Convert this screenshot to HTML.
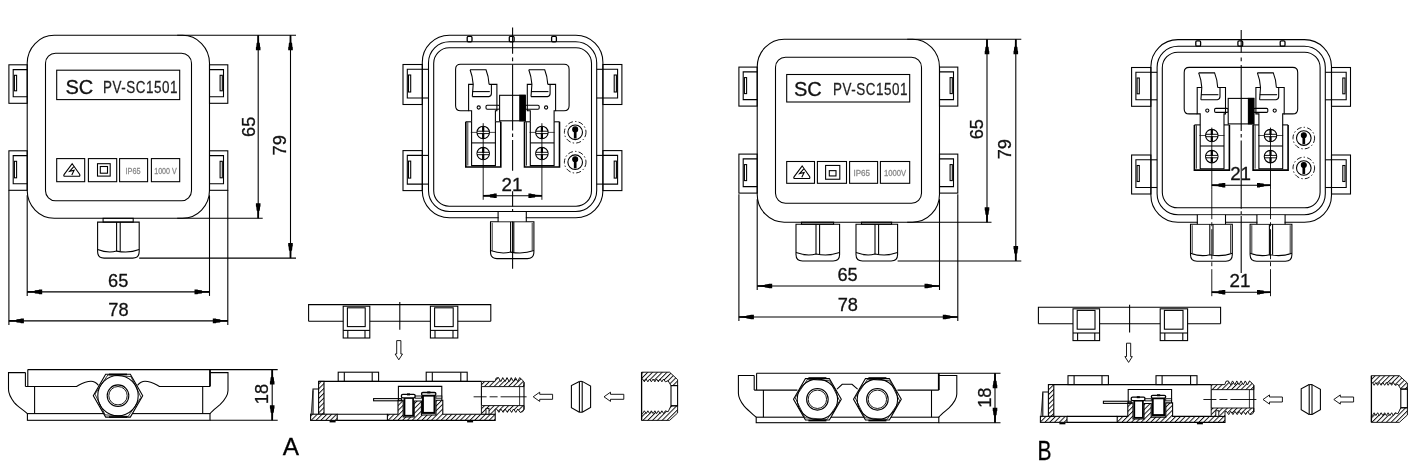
<!DOCTYPE html>
<html lang="en">
<head>
<meta charset="utf-8">
<title>PV-SC1501 junction box drawing</title>
<style>
html,body{margin:0;padding:0;background:#fff;}
body{width:1424px;height:472px;overflow:hidden;font-family:"Liberation Sans",sans-serif;}
svg{display:block;font-family:"Liberation Sans",sans-serif;}
svg{will-change:transform;}
</style>
</head>
<body>
<svg width="1424" height="472" viewBox="0 0 1424 472" fill="none" stroke="#000" stroke-width="1.08" stroke-linecap="butt" stroke-linejoin="miter">
<defs>
<pattern id="h" width="3.4" height="3.4" patternUnits="userSpaceOnUse" patternTransform="rotate(45)">
<rect width="3.4" height="3.4" fill="#fff" stroke="none"/>
<line x1="0.5" y1="0" x2="0.5" y2="3.4" stroke="#000" stroke-width="0.9"/>
</pattern>
</defs>
<rect x="0" y="0" width="1424" height="472" fill="#fff" stroke="none"/>
<path d="M54.2,35.3 H182.5 A27,28 0 0 1 209.5,63.3 V190.3 A27,28 0 0 1 182.5,218.3 H54.2 A27,28 0 0 1 27.2,190.3 V63.3 A27,28 0 0 1 54.2,35.3 Z"/>
<path d="M55.5,53.3 H181.5 A10,10 0 0 1 191.5,63.3 V190.7 A10,10 0 0 1 181.5,200.7 H55.5 A10,10 0 0 1 45.5,190.7 V63.3 A10,10 0 0 1 55.5,53.3 Z"/>
<rect x="56.7" y="70.2" width="123" height="29.4"/>
<text x="65.5" y="93.8" font-size="19.4" textLength="27.8" lengthAdjust="spacingAndGlyphs" fill="#111" stroke="#111" stroke-width="0.3">SC</text>
<text transform="translate(103 92.9) scale(0.84 1)" x="0" y="0" font-size="16" textLength="88.81" lengthAdjust="spacing" fill="#222" stroke="#222" stroke-width="0.25">PV-SC1501</text>
<rect x="56.7" y="158.6" width="28" height="23.1"/>
<rect x="88.4" y="158.6" width="28.3" height="23.1"/>
<rect x="119.6" y="158.6" width="28" height="23.1"/>
<rect x="151.4" y="158.6" width="28.3" height="23.1"/>
<path d="M72.2,163.7 L79.6,174.3 Q80.5,176.3 78.8,176.3 L65,176.3 Q63,176.3 64.2,174.3 Z"/>
<path d="M73.8,166.7 L69.6,171.3 L74.1,170.3 L71.8,174.9"/>
<rect x="97.5" y="163.7" width="12.7" height="12.4"/>
<rect x="100.3" y="166.5" width="7.2" height="6.7"/>
<text x="133.1" y="173.9" font-size="8.9" text-anchor="middle" textLength="15" lengthAdjust="spacingAndGlyphs" fill="#8a8a8a" stroke="#8a8a8a" stroke-width="0.3">IP65</text>
<text x="165.5" y="173.9" font-size="8.9" text-anchor="middle" textLength="22.6" lengthAdjust="spacingAndGlyphs" fill="#8a8a8a" stroke="#8a8a8a" stroke-width="0.3">1000 V</text>
<rect x="8.9" y="64.8" width="18.3" height="38.5"/>
<path d="M27.2,69.6 H13.2 V96.8 H27.2"/>
<rect x="14.4" y="75.3" width="2.2" height="15.5"/>
<rect x="209.5" y="64.8" width="18.3" height="38.5"/>
<path d="M209.5,69.6 H223.5 V96.8 H209.5"/>
<rect x="220.1" y="75.3" width="2.2" height="15.5"/>
<rect x="8.9" y="150.8" width="18.3" height="39.5"/>
<path d="M27.2,155.6 H13.2 V183.8 H27.2"/>
<rect x="14.4" y="161.3" width="2.2" height="16.5"/>
<rect x="209.5" y="150.8" width="18.3" height="39.5"/>
<path d="M209.5,155.6 H223.5 V183.8 H209.5"/>
<rect x="220.1" y="161.3" width="2.2" height="16.5"/>
<line x1="27.2" y1="195.3" x2="27.2" y2="295.9"/>
<line x1="209.5" y1="195.3" x2="209.5" y2="295.9"/>
<line x1="8.9" y1="190.3" x2="8.9" y2="324.9"/>
<line x1="227.8" y1="190.3" x2="227.8" y2="324.9"/>
<line x1="177.2" y1="35.3" x2="296" y2="35.3"/>
<line x1="177.2" y1="218.3" x2="262.7" y2="218.3"/>
<line x1="139.2" y1="258.1" x2="296" y2="258.1"/>
<rect x="103.1" y="218.3" width="30.1" height="3.8"/>
<path d="M97.6,222.1 V251.6 Q97.6,258.1 104.1,258.1 H132.7 Q139.2,258.1 139.2,251.6 V222.1 Z"/>
<line x1="116.6" y1="222.1" x2="116.6" y2="251.1"/>
<line x1="120.2" y1="222.1" x2="120.2" y2="251.1"/>
<path d="M97.6,249.6 Q108,253.6 116.6,251.1 Q128.8,253.6 139.2,249.6"/>
<line x1="258.2" y1="35.3" x2="258.2" y2="218.3"/>
<path d="M259.05,35.3 L259.15,42.5 L259.8,43.1 L260.1,46.7 L260.5,47.3 L260.5,50.3 L255.9,50.3 L255.9,47.3 L256.3,46.7 L256.6,43.1 L257.25,42.5 L257.35,35.3 Z" fill="#000" stroke="none"/>
<path d="M257.35,218.3 L257.25,211.1 L256.6,210.5 L256.3,206.9 L255.9,206.3 L255.9,203.3 L260.5,203.3 L260.5,206.3 L260.1,206.9 L259.8,210.5 L259.15,211.1 L259.05,218.3 Z" fill="#000" stroke="none"/>
<line x1="290.5" y1="35.3" x2="290.5" y2="258.1"/>
<path d="M291.35,35.3 L291.45,42.5 L292.1,43.1 L292.4,46.7 L292.8,47.3 L292.8,50.3 L288.2,50.3 L288.2,47.3 L288.6,46.7 L288.9,43.1 L289.55,42.5 L289.65,35.3 Z" fill="#000" stroke="none"/>
<path d="M289.65,258.1 L289.55,250.9 L288.9,250.3 L288.6,246.7 L288.2,246.1 L288.2,243.1 L292.8,243.1 L292.8,246.1 L292.4,246.7 L292.1,250.3 L291.45,250.9 L291.35,258.1 Z" fill="#000" stroke="none"/>
<line x1="27.2" y1="291.9" x2="209.5" y2="291.9"/>
<path d="M27.2,291.05 L34.4,290.95 L35,290.3 L38.6,290 L39.2,289.6 L42.2,289.6 L42.2,294.2 L39.2,294.2 L38.6,293.8 L35,293.5 L34.4,292.85 L27.2,292.75 Z" fill="#000" stroke="none"/>
<path d="M209.5,292.75 L202.3,292.85 L201.7,293.5 L198.1,293.8 L197.5,294.2 L194.5,294.2 L194.5,289.6 L197.5,289.6 L198.1,290 L201.7,290.3 L202.3,290.95 L209.5,291.05 Z" fill="#000" stroke="none"/>
<line x1="8.9" y1="320.9" x2="227.8" y2="320.9"/>
<path d="M8.9,320.05 L16.1,319.95 L16.7,319.3 L20.3,319 L20.9,318.6 L23.9,318.6 L23.9,323.2 L20.9,323.2 L20.3,322.8 L16.7,322.5 L16.1,321.85 L8.9,321.75 Z" fill="#000" stroke="none"/>
<path d="M227.8,321.75 L220.6,321.85 L220,322.5 L216.4,322.8 L215.8,323.2 L212.8,323.2 L212.8,318.6 L215.8,318.6 L216.4,319 L220,319.3 L220.6,319.95 L227.8,320.05 Z" fill="#000" stroke="none"/>
<text x="254.8" y="126.8" font-size="18.2" text-anchor="middle" transform="rotate(-90 254.8 126.8)" fill="#111" stroke="#111" stroke-width="0.3">65</text>
<text x="285.8" y="145.3" font-size="18.2" text-anchor="middle" transform="rotate(-90 285.8 145.3)" fill="#111" stroke="#111" stroke-width="0.3">79</text>
<text x="118.2" y="287.3" font-size="18.2" text-anchor="middle" fill="#111" stroke="#111" stroke-width="0.3">65</text>
<text x="118.4" y="315.9" font-size="18.2" text-anchor="middle" fill="#111" stroke="#111" stroke-width="0.3">78</text>
<line x1="27.8" y1="369.6" x2="277.7" y2="369.6"/>
<line x1="210" y1="420.3" x2="277.7" y2="420.3"/>
<line x1="27.8" y1="369.6" x2="27.8" y2="386.5"/>
<line x1="25.4" y1="372.6" x2="25.4" y2="386.5"/>
<line x1="210" y1="369.6" x2="210" y2="386.5" stroke-width="1.8"/>
<path d="M25.4,386.5 H76.5 C82,383.5 85,381.3 91,381.3 C94,381.3 96.5,383 98.5,385.3"/>
<path d="M137.5,385.3 C139.5,383 142,381.3 145,381.3 C151,381.3 154,383.5 159.5,386.5 H210"/>
<line x1="34.6" y1="386.5" x2="34.6" y2="413.6"/>
<line x1="202.7" y1="386.5" x2="202.7" y2="413.6"/>
<rect x="27.4" y="413.6" width="182.6" height="6.7"/>
<path d="M25.4,372.6 H8.5 V389.6 C8.5,393.6 10.8,398.1 14.3,402.6 C17.8,406.6 22.8,409.6 27.4,413.6"/>
<path d="M210,372.6 H228 V390.4 C228,394.6 225,399.6 220,404.6 C216,408.1 212.5,410.6 210,413.6"/>
<path d="M142.7,395.7 L130.35,417.09 L105.65,417.09 L93.3,395.7 L105.65,374.31 L130.35,374.31 Z" fill="#fff"/>
<path d="M141.04,397.31 L128.13,416.46 L105.08,414.85 L94.96,394.09 L107.87,374.94 L130.92,376.55 Z" stroke-width="0.8"/>
<circle cx="118" cy="395.7" r="20.2"/>
<circle cx="118" cy="395.7" r="10.8"/>
<circle cx="118" cy="395.7" r="9.2" stroke-width="0.9"/>
<line x1="109" y1="374.4" x2="127" y2="374.4" stroke-width="1.6"/>
<line x1="109" y1="417" x2="127" y2="417" stroke-width="1.6"/>
<line x1="272.2" y1="369.6" x2="272.2" y2="420.3"/>
<path d="M273.05,369.6 L273.15,376.8 L273.8,377.4 L274.1,381 L274.5,381.6 L274.5,384.6 L269.9,384.6 L269.9,381.6 L270.3,381 L270.6,377.4 L271.25,376.8 L271.35,369.6 Z" fill="#000" stroke="none"/>
<path d="M271.35,420.3 L271.25,413.1 L270.6,412.5 L270.3,408.9 L269.9,408.3 L269.9,405.3 L274.5,405.3 L274.5,408.3 L274.1,408.9 L273.8,412.5 L273.15,413.1 L273.05,420.3 Z" fill="#000" stroke="none"/>
<text x="268" y="394.1" font-size="18.2" text-anchor="middle" transform="rotate(-90 268 394.1)" fill="#111" stroke="#111" stroke-width="0.3">18</text>
<path d="M449.3,35.2 H575.9 A27,27 0 0 1 602.9,62.2 V190.8 A27,27 0 0 1 575.9,217.8 H449.3 A27,27 0 0 1 422.3,190.8 V62.2 A27,27 0 0 1 449.3,35.2 Z"/>
<path d="M449.5,41.8 H575.7 A21,21 0 0 1 596.7,62.8 V190.5 A21,21 0 0 1 575.7,211.5 H449.5 A21,21 0 0 1 428.5,190.5 V62.8 A21,21 0 0 1 449.5,41.8 Z"/>
<path d="M449.2,47.8 H576 A15.5,15.5 0 0 1 591.5,63.3 V190.7 A15.5,15.5 0 0 1 576,206.2 H449.2 A15.5,15.5 0 0 1 433.7,190.7 V63.3 A15.5,15.5 0 0 1 449.2,47.8 Z"/>
<rect x="467.2" y="36.4" width="4.8" height="5.4" rx="1.2" stroke-width="1.3"/>
<rect x="509.3" y="36.4" width="4.8" height="5.4" rx="1.2" stroke-width="1.3"/>
<rect x="551.6" y="36.4" width="4.8" height="5.4" rx="1.2" stroke-width="1.3"/>
<rect x="403" y="64.5" width="19.3" height="40"/>
<path d="M422.3,69.3 H407.3 V98 H422.3"/>
<rect x="408.5" y="75" width="2.2" height="17"/>
<rect x="602.9" y="64.5" width="19" height="40"/>
<path d="M602.9,69.3 H617.6 V98 H602.9"/>
<rect x="614.2" y="75" width="2.2" height="17"/>
<line x1="422.3" y1="69.3" x2="428.5" y2="69.3"/>
<line x1="422.3" y1="98" x2="428.5" y2="98"/>
<line x1="602.9" y1="69.3" x2="596.7" y2="69.3"/>
<line x1="602.9" y1="98" x2="596.7" y2="98"/>
<rect x="403" y="150.6" width="19.3" height="40"/>
<path d="M422.3,155.4 H407.3 V184.1 H422.3"/>
<rect x="408.5" y="161.1" width="2.2" height="17"/>
<rect x="602.9" y="150.6" width="19" height="40"/>
<path d="M602.9,155.4 H617.6 V184.1 H602.9"/>
<rect x="614.2" y="161.1" width="2.2" height="17"/>
<line x1="422.3" y1="155.4" x2="428.5" y2="155.4"/>
<line x1="422.3" y1="184.1" x2="428.5" y2="184.1"/>
<line x1="602.9" y1="155.4" x2="596.7" y2="155.4"/>
<line x1="602.9" y1="184.1" x2="596.7" y2="184.1"/>
<path d="M468.6,110.8 H460.6 Q455.6,110.8 455.6,105.8 V69.3 Q455.6,64.3 460.6,64.3 H564.1 Q569.1,64.3 569.1,69.3 V105.8 Q569.1,110.8 564.1,110.8 H555.6"/>
<path d="M470.1,69.8 H486 C487.8,74.2 488.8,79.2 489.1,84.4"/>
<path d="M470.1,69.8 C471.8,74.2 472.8,79.2 473.2,84.4 L472.3,96.6"/>
<path d="M472.3,96.6 H488.8 Q491.4,96.2 491.4,93.4 V84.4"/>
<line x1="472.4" y1="91.6" x2="489.8" y2="91.6"/>
<path d="M473.2,84.4 H468.6 V110.8 H471.6 V121.8"/>
<path d="M489.1,84.4 H496.9 V110.8 H495.4 V121.8"/>
<path d="M465.8,121.8 V167 H500.8 V121.8" stroke-width="1.6"/>
<path d="M471.6,121.8 V165.6 H495.4 V121.8"/>
<line x1="465.8" y1="121.8" x2="471.6" y2="121.8"/>
<line x1="495.4" y1="121.8" x2="500.8" y2="121.8"/>
<line x1="467.8" y1="122.2" x2="467.8" y2="165.6" stroke-width="0.8"/>
<line x1="471.6" y1="142.9" x2="495.4" y2="142.9"/>
<line x1="470.8" y1="132.4" x2="495.8" y2="132.4" stroke-width="0.7"/>
<circle cx="483.2" cy="132.4" r="6.2" stroke-width="1.15"/>
<line x1="483.2" y1="126.7" x2="483.2" y2="138.1" stroke-width="2.2"/>
<line x1="477.6" y1="132.4" x2="488.8" y2="132.4" stroke="#fff" stroke-width="1.3"/>
<line x1="477.15" y1="131.2" x2="489.25" y2="131.2" stroke-width="0.95"/>
<line x1="477.15" y1="133.6" x2="489.25" y2="133.6" stroke-width="0.95"/>
<circle cx="483.2" cy="153.5" r="6.2" stroke-width="1.15"/>
<line x1="483.2" y1="147.8" x2="483.2" y2="159.2" stroke-width="2.2"/>
<line x1="477.6" y1="153.5" x2="488.8" y2="153.5" stroke="#fff" stroke-width="1.3"/>
<line x1="477.15" y1="152.3" x2="489.25" y2="152.3" stroke-width="0.95"/>
<line x1="477.15" y1="154.7" x2="489.25" y2="154.7" stroke-width="0.95"/>
<path d="M528.8,69.8 H544.7 C546.5,74.2 547.5,79.2 547.8,84.4"/>
<path d="M528.8,69.8 C530.5,74.2 531.5,79.2 531.9,84.4 L531,96.6"/>
<path d="M531,96.6 H547.5 Q550.1,96.2 550.1,93.4 V84.4"/>
<line x1="531.1" y1="91.6" x2="548.5" y2="91.6"/>
<path d="M531.9,84.4 H527.3 V110.8 H530.3 V121.8"/>
<path d="M547.8,84.4 H555.6 V110.8 H554.1 V121.8"/>
<path d="M524.5,121.8 V167 H559.5 V121.8" stroke-width="1.6"/>
<path d="M530.3,121.8 V165.6 H554.1 V121.8"/>
<line x1="524.5" y1="121.8" x2="530.3" y2="121.8"/>
<line x1="554.1" y1="121.8" x2="559.5" y2="121.8"/>
<line x1="526.5" y1="122.2" x2="526.5" y2="165.6" stroke-width="0.8"/>
<line x1="530.3" y1="142.9" x2="554.1" y2="142.9"/>
<line x1="529.5" y1="132.4" x2="554.5" y2="132.4" stroke-width="0.7"/>
<circle cx="541.9" cy="132.4" r="6.2" stroke-width="1.15"/>
<line x1="541.9" y1="126.7" x2="541.9" y2="138.1" stroke-width="2.2"/>
<line x1="536.3" y1="132.4" x2="547.5" y2="132.4" stroke="#fff" stroke-width="1.3"/>
<line x1="535.85" y1="131.2" x2="547.95" y2="131.2" stroke-width="0.95"/>
<line x1="535.85" y1="133.6" x2="547.95" y2="133.6" stroke-width="0.95"/>
<circle cx="541.9" cy="153.5" r="6.2" stroke-width="1.15"/>
<line x1="541.9" y1="147.8" x2="541.9" y2="159.2" stroke-width="2.2"/>
<line x1="536.3" y1="153.5" x2="547.5" y2="153.5" stroke="#fff" stroke-width="1.3"/>
<line x1="535.85" y1="152.3" x2="547.95" y2="152.3" stroke-width="0.95"/>
<line x1="535.85" y1="154.7" x2="547.95" y2="154.7" stroke-width="0.95"/>
<circle cx="478.7" cy="107.5" r="1.6"/>
<circle cx="546.1" cy="107.5" r="1.6"/>
<rect x="486" y="105.3" width="13.6" height="4" rx="1.2"/>
<rect x="525" y="105.3" width="14.2" height="4" rx="1.2"/>
<rect x="499.6" y="95.3" width="25.6" height="25.5" fill="#fff"/>
<rect x="519.8" y="95.3" width="5.4" height="25.5" fill="#000"/>
<circle cx="575.2" cy="132.3" r="10.8" stroke-width="0.9" stroke-dasharray="5 2.2 1.4 2.2"/>
<circle cx="575.2" cy="132.3" r="7.3" stroke-width="1.1"/>
<circle cx="575.2" cy="129.4" r="2.5" fill="#000"/>
<line x1="575.2" y1="129.8" x2="575.2" y2="138.5" stroke-width="2.7"/>
<circle cx="575.2" cy="162.2" r="10.8" stroke-width="0.9" stroke-dasharray="5 2.2 1.4 2.2"/>
<circle cx="575.2" cy="162.2" r="7.3" stroke-width="1.1"/>
<circle cx="575.2" cy="159.3" r="2.5" fill="#000"/>
<line x1="575.2" y1="159.7" x2="575.2" y2="168.4" stroke-width="2.7"/>
<line x1="512.6" y1="27.5" x2="512.6" y2="53.8"/>
<line x1="512.6" y1="57.5" x2="512.6" y2="61.2"/>
<line x1="512.6" y1="64.5" x2="512.6" y2="130.5"/>
<line x1="512.6" y1="133.5" x2="512.6" y2="137"/>
<line x1="512.6" y1="140" x2="512.6" y2="170.7"/>
<line x1="512.6" y1="191.3" x2="512.6" y2="206.5"/>
<line x1="512.6" y1="209" x2="512.6" y2="212"/>
<line x1="512.6" y1="214.7" x2="512.6" y2="268.8"/>
<path d="M490.5,221.8 V252.1 Q490.5,258.6 497,258.6 H527.4 Q533.9,258.6 533.9,252.1 V221.8 Z"/>
<line x1="492.2" y1="222.8" x2="492.2" y2="250.6" stroke-width="0.8"/>
<line x1="532.2" y1="222.8" x2="532.2" y2="250.6" stroke-width="0.8"/>
<line x1="510.6" y1="221.8" x2="510.6" y2="252.1"/>
<line x1="513.8" y1="221.8" x2="513.8" y2="252.1"/>
<path d="M490.5,250.6 Q501.35,254.6 510.6,252.1 Q523.05,254.6 533.9,250.6"/>
<rect x="498.6" y="212.1" width="27.2" height="9.1" fill="#fff" stroke="none"/>
<line x1="498.1" y1="211.5" x2="498.1" y2="221.8"/>
<line x1="526.3" y1="211.5" x2="526.3" y2="221.8"/>
<line x1="483.2" y1="123.2" x2="483.2" y2="199.8" stroke-width="0.9"/>
<line x1="541.9" y1="123.2" x2="541.9" y2="199.8" stroke-width="0.9"/>
<line x1="483.2" y1="195.8" x2="541.9" y2="195.8"/>
<path d="M483.2,194.95 L489.68,194.85 L490.22,194.2 L493.46,193.9 L494,193.5 L496.7,193.5 L496.7,198.1 L494,198.1 L493.46,197.7 L490.22,197.4 L489.68,196.75 L483.2,196.65 Z" fill="#000" stroke="none"/>
<path d="M541.9,196.65 L535.42,196.75 L534.88,197.4 L531.64,197.7 L531.1,198.1 L528.4,198.1 L528.4,193.5 L531.1,193.5 L531.64,193.9 L534.88,194.2 L535.42,194.85 L541.9,194.95 Z" fill="#000" stroke="none"/>
<text x="512" y="190.6" font-size="18.8" text-anchor="middle" fill="#111" stroke="#111" stroke-width="0.3">21</text>
<path d="M308.6,321.2 V304.6 H490.8 V321.2"/>
<line x1="308.6" y1="321.2" x2="343.2" y2="321.2"/>
<line x1="369.8" y1="321.2" x2="430.4" y2="321.2"/>
<line x1="457.8" y1="321.2" x2="490.8" y2="321.2"/>
<rect x="343.2" y="306.2" width="26.6" height="31.8"/>
<rect x="347.4" y="307.8" width="17.8" height="18.8"/>
<line x1="343.2" y1="330.4" x2="369.8" y2="330.4"/>
<line x1="347.8" y1="330.4" x2="347.8" y2="338"/>
<line x1="365" y1="330.4" x2="365" y2="338"/>
<rect x="430.4" y="306.2" width="27.4" height="31.8"/>
<rect x="434.6" y="307.8" width="18.6" height="18.8"/>
<line x1="430.4" y1="330.4" x2="457.8" y2="330.4"/>
<line x1="435" y1="330.4" x2="435" y2="338"/>
<line x1="453" y1="330.4" x2="453" y2="338"/>
<line x1="399.8" y1="302.1" x2="399.8" y2="329.8"/>
<path d="M398.8,359.8 L395.1,354 H396.7 V340.6 H400.9 V354 H402.5 Z" stroke-width="0.9"/>
<rect x="338.2" y="372.2" width="40.4" height="9.2"/>
<line x1="344.3" y1="372.2" x2="344.3" y2="381.4"/>
<line x1="372.2" y1="372.2" x2="372.2" y2="381.4"/>
<rect x="426.2" y="372.2" width="41" height="9.2"/>
<line x1="432.3" y1="372.2" x2="432.3" y2="381.4"/>
<line x1="460.8" y1="372.2" x2="460.8" y2="381.4"/>
<line x1="318.6" y1="381.4" x2="481.4" y2="381.4"/>
<rect x="318.6" y="381.4" width="5.4" height="32.8" fill="url(#h)"/>
<path d="M318.6,389 V389 H313 V414.2"/>
<path d="M313,390.4 L311.2,414.2" stroke-width="0.8"/>
<rect x="310.6" y="414.2" width="26.6" height="6.2" fill="url(#h)"/>
<line x1="337.2" y1="414.2" x2="387.4" y2="414.2"/>
<line x1="337.2" y1="420.4" x2="387.4" y2="420.4"/>
<line x1="329.6" y1="421.6" x2="335.6" y2="421.6" stroke-width="1.6"/>
<line x1="467.1" y1="421.6" x2="473.1" y2="421.6" stroke-width="1.6"/>
<path d="M387.4,420.4 L495.2,420.4 L495.2,414.2 L442.8,414.2 L442.8,400.3 L436,400.3 L436,415 L421.4,415 L421.4,401 L414.2,401 L414.2,417 L403.2,417 L403.2,400.3 L398,400.3 L398,414.2 L387.4,414.2 Z" fill="url(#h)"/>
<path d="M398.4,400.3 V386.4 H441.8 V400.3"/>
<rect x="373.6" y="398.6" width="27.8" height="2.2"/>
<rect x="404.5" y="397.9" width="8.6" height="17.8" stroke-width="1.7" fill="#fff"/>
<rect x="401.4" y="394.3" width="13.8" height="3.6" rx="1.4" stroke-width="1.3" fill="#fff"/>
<line x1="407" y1="394.4" x2="410" y2="394.4" stroke-width="2"/>
<rect x="422.9" y="395.5" width="11.6" height="17.4" stroke-width="2" fill="#fff"/>
<rect x="421.5" y="392.5" width="14.4" height="3" rx="1.4" stroke-width="1.3" fill="#fff"/>
<line x1="427.2" y1="392.4" x2="430.4" y2="392.4" stroke-width="2"/>
<rect x="415.2" y="396" width="6.3" height="2.2" stroke-width="0.9" fill="#fff"/>
<rect x="435.9" y="396" width="5.9" height="2.2" stroke-width="0.9" fill="#fff"/>
<path d="M481.4,381.4 L495,381.4 L496.2,378 L498.5,377.6 L500.83,381.6 L502.74,377.6 L505.07,381.6 L506.97,377.6 L509.3,381.6 L511.21,377.6 L513.53,381.6 L515.44,377.6 L517.77,381.6 L519.67,377.6 L522.8,380.4 L524,382.2 L524,386.6 L481.4,386.6 Z" stroke-width="0.9" fill="url(#h)"/>
<path d="M481.4,405.6 L524,405.6 L524,409.6 L522.8,411.6 L520.1,412.4 L517.77,409 L515.86,412.4 L513.53,409 L511.63,412.4 L509.3,409 L507.39,412.4 L505.07,409 L503.16,412.4 L500.83,409 L498.93,412.4 L496.6,409 L495.2,409 L495.2,414.2 L481.4,414.2 Z" stroke-width="0.9" fill="url(#h)"/>
<line x1="481.4" y1="386.6" x2="481.4" y2="405.6"/>
<line x1="524" y1="382.2" x2="524" y2="409.6"/>
<line x1="519.6" y1="386.6" x2="519.6" y2="405.6" stroke-width="0.8"/>
<rect x="486" y="408.4" width="3" height="5.8" stroke-width="0.9" fill="#fff"/>
<line x1="473.6" y1="396.8" x2="526.6" y2="396.8" stroke-dasharray="13 3 8 3 30 0" stroke-width="0.9"/>
<path d="M533.2,396.8 L539.7,392.2 V394.3 H552.6 V399.3 H539.7 V401.4 Z" stroke-width="0.9"/>
<path d="M579.4,381.4 L571.4,385.6 V407.6 L579.4,412.2"/>
<path d="M582.2,381.4 L590.6,386 V407.4 L582.2,412.2"/>
<line x1="579.4" y1="381.4" x2="579.4" y2="412.2"/>
<line x1="582.2" y1="381.4" x2="582.2" y2="412.2"/>
<line x1="579.4" y1="381.4" x2="582.2" y2="381.4"/>
<line x1="579.4" y1="412.2" x2="582.2" y2="412.2"/>
<path d="M604,396.8 L610.5,392.2 V394.3 H623.8 V399.3 H610.5 V401.4 Z" stroke-width="0.9"/>
<path d="M641.6,372.2 L669.6,372.2 L677.6,379.6 L677.6,385.6 L671,385.6 L668.1,380.8 L665.35,381.8 L663.6,379 L661.85,381.8 L660.1,379 L658.35,381.8 L656.6,379 L654.85,381.8 L653.1,379 L651.35,381.8 L649.6,379 L647.85,381.8 L646.1,379 L644.35,381.8 L642.6,379 L641.6,379 Z" stroke-width="0.9" fill="url(#h)"/>
<path d="M641.6,420.4 L669.6,420.4 L677.6,413 L677.6,405.8 L671,405.8 L668.1,411.8 L665.35,410.8 L663.6,413.6 L661.85,410.8 L660.1,413.6 L658.35,410.8 L656.6,413.6 L654.85,410.8 L653.1,413.6 L651.35,410.8 L649.6,413.6 L647.85,410.8 L646.1,413.6 L644.35,410.8 L642.6,413.6 L641.6,413.6 Z" stroke-width="0.9" fill="url(#h)"/>
<line x1="641.6" y1="372.2" x2="641.6" y2="420.4" stroke-width="1.3"/>
<rect x="671" y="385.6" width="6.6" height="20.2"/>
<text x="290.8" y="455.4" font-size="24.4" text-anchor="middle" fill="#000" stroke="#000" stroke-width="0.3">A</text>
<path d="M784.2,39.2 H912.5 A27,28 0 0 1 939.5,67.2 V194.2 A27,28 0 0 1 912.5,222.2 H784.2 A27,28 0 0 1 757.2,194.2 V67.2 A27,28 0 0 1 784.2,39.2 Z"/>
<path d="M785.5,57.2 H911.5 A10,10 0 0 1 921.5,67.2 V193.2 A10,10 0 0 1 911.5,203.2 H785.5 A10,10 0 0 1 775.5,193.2 V67.2 A10,10 0 0 1 785.5,57.2 Z"/>
<rect x="786.7" y="74.5" width="123" height="27.5"/>
<text x="793.9" y="96.1" font-size="19.4" textLength="27.8" lengthAdjust="spacingAndGlyphs" fill="#111" stroke="#111" stroke-width="0.3">SC</text>
<text transform="translate(833 95.2) scale(0.84 1)" x="0" y="0" font-size="16" textLength="88.81" lengthAdjust="spacing" fill="#222" stroke="#222" stroke-width="0.25">PV-SC1501</text>
<rect x="786.7" y="161.5" width="27.8" height="21.8"/>
<rect x="817.4" y="161.5" width="29.1" height="21.8"/>
<rect x="849.6" y="161.5" width="28" height="21.8"/>
<rect x="880.4" y="161.5" width="29.3" height="21.8"/>
<path d="M802.2,165.95 L809.6,176.55 Q810.5,178.55 808.8,178.55 L795,178.55 Q793,178.55 794.2,176.55 Z"/>
<path d="M803.8,168.95 L799.6,173.55 L804.1,172.55 L801.8,177.15"/>
<rect x="825.6" y="165.45" width="14.2" height="13.8"/>
<rect x="829.3" y="170.65" width="6.7" height="5.3"/>
<text x="861.8" y="176.15" font-size="8.9" text-anchor="middle" textLength="16.6" lengthAdjust="spacingAndGlyphs" fill="#8a8a8a" stroke="#8a8a8a" stroke-width="0.3">IP65</text>
<text x="895" y="176.15" font-size="8.9" text-anchor="middle" textLength="22.2" lengthAdjust="spacingAndGlyphs" fill="#8a8a8a" stroke="#8a8a8a" stroke-width="0.3">1000V</text>
<rect x="738.9" y="67.1" width="18.3" height="39"/>
<path d="M757.2,71.9 H743.2 V99.6 H757.2"/>
<rect x="744.4" y="77.6" width="2.2" height="16"/>
<rect x="939.5" y="67.1" width="18.3" height="39"/>
<path d="M939.5,71.9 H953.5 V99.6 H939.5"/>
<rect x="950.1" y="77.6" width="2.2" height="16"/>
<rect x="738.9" y="154.1" width="18.3" height="39"/>
<path d="M757.2,158.9 H743.2 V186.6 H757.2"/>
<rect x="744.4" y="164.6" width="2.2" height="16"/>
<rect x="939.5" y="154.1" width="18.3" height="39"/>
<path d="M939.5,158.9 H953.5 V186.6 H939.5"/>
<rect x="950.1" y="164.6" width="2.2" height="16"/>
<line x1="757.2" y1="199.2" x2="757.2" y2="290"/>
<line x1="939.5" y1="199.2" x2="939.5" y2="290"/>
<line x1="738.9" y1="194.2" x2="738.9" y2="321"/>
<line x1="957.8" y1="194.2" x2="957.8" y2="321"/>
<line x1="907.2" y1="39.2" x2="1021.3" y2="39.2"/>
<line x1="907.2" y1="222.2" x2="991.5" y2="222.2"/>
<line x1="897.6" y1="261" x2="1021.3" y2="261"/>
<rect x="801.5" y="222.2" width="32.1" height="2"/>
<path d="M796,224.2 V254.5 Q796,261 802.5,261 H833.1 Q839.6,261 839.6,254.5 V224.2 Z"/>
<line x1="816" y1="224.2" x2="816" y2="254"/>
<line x1="819.6" y1="224.2" x2="819.6" y2="254"/>
<path d="M796,252.5 Q806.9,256.5 816,254 Q828.7,256.5 839.6,252.5"/>
<rect x="861.5" y="222.2" width="30.1" height="2"/>
<path d="M856,224.2 V254.5 Q856,261 862.5,261 H891.1 Q897.6,261 897.6,254.5 V224.2 Z"/>
<line x1="875" y1="224.2" x2="875" y2="254"/>
<line x1="878.6" y1="224.2" x2="878.6" y2="254"/>
<path d="M856,252.5 Q866.4,256.5 875,254 Q887.2,256.5 897.6,252.5"/>
<line x1="987" y1="39.2" x2="987" y2="222.2"/>
<path d="M987.85,39.2 L987.95,46.4 L988.6,47 L988.9,50.6 L989.3,51.2 L989.3,54.2 L984.7,54.2 L984.7,51.2 L985.1,50.6 L985.4,47 L986.05,46.4 L986.15,39.2 Z" fill="#000" stroke="none"/>
<path d="M986.15,222.2 L986.05,215 L985.4,214.4 L985.1,210.8 L984.7,210.2 L984.7,207.2 L989.3,207.2 L989.3,210.2 L988.9,210.8 L988.6,214.4 L987.95,215 L987.85,222.2 Z" fill="#000" stroke="none"/>
<line x1="1015.8" y1="39.2" x2="1015.8" y2="261"/>
<path d="M1016.65,39.2 L1016.75,46.4 L1017.4,47 L1017.7,50.6 L1018.1,51.2 L1018.1,54.2 L1013.5,54.2 L1013.5,51.2 L1013.9,50.6 L1014.2,47 L1014.85,46.4 L1014.95,39.2 Z" fill="#000" stroke="none"/>
<path d="M1014.95,261 L1014.85,253.8 L1014.2,253.2 L1013.9,249.6 L1013.5,249 L1013.5,246 L1018.1,246 L1018.1,249 L1017.7,249.6 L1017.4,253.2 L1016.75,253.8 L1016.65,261 Z" fill="#000" stroke="none"/>
<line x1="757.2" y1="286" x2="939.5" y2="286"/>
<path d="M757.2,285.15 L764.4,285.05 L765,284.4 L768.6,284.1 L769.2,283.7 L772.2,283.7 L772.2,288.3 L769.2,288.3 L768.6,287.9 L765,287.6 L764.4,286.95 L757.2,286.85 Z" fill="#000" stroke="none"/>
<path d="M939.5,286.85 L932.3,286.95 L931.7,287.6 L928.1,287.9 L927.5,288.3 L924.5,288.3 L924.5,283.7 L927.5,283.7 L928.1,284.1 L931.7,284.4 L932.3,285.05 L939.5,285.15 Z" fill="#000" stroke="none"/>
<line x1="738.9" y1="317" x2="957.8" y2="317"/>
<path d="M738.9,316.15 L746.1,316.05 L746.7,315.4 L750.3,315.1 L750.9,314.7 L753.9,314.7 L753.9,319.3 L750.9,319.3 L750.3,318.9 L746.7,318.6 L746.1,317.95 L738.9,317.85 Z" fill="#000" stroke="none"/>
<path d="M957.8,317.85 L950.6,317.95 L950,318.6 L946.4,318.9 L945.8,319.3 L942.8,319.3 L942.8,314.7 L945.8,314.7 L946.4,315.1 L950,315.4 L950.6,316.05 L957.8,316.15 Z" fill="#000" stroke="none"/>
<text x="982.8" y="129.2" font-size="18.2" text-anchor="middle" transform="rotate(-90 982.8 129.2)" fill="#111" stroke="#111" stroke-width="0.3">65</text>
<text x="1010.8" y="149.2" font-size="18.2" text-anchor="middle" transform="rotate(-90 1010.8 149.2)" fill="#111" stroke="#111" stroke-width="0.3">79</text>
<text x="847.6" y="280.6" font-size="18.2" text-anchor="middle" fill="#111" stroke="#111" stroke-width="0.3">65</text>
<text x="847.8" y="311" font-size="18.2" text-anchor="middle" fill="#111" stroke="#111" stroke-width="0.3">78</text>
<line x1="756.6" y1="373.2" x2="1000.5" y2="373.2"/>
<line x1="938.8" y1="422.7" x2="1000.5" y2="422.7"/>
<line x1="756.6" y1="373.2" x2="756.6" y2="390.1"/>
<line x1="754.2" y1="375.5" x2="754.2" y2="390.1"/>
<line x1="938.8" y1="373.2" x2="938.8" y2="390.1" stroke-width="1.8"/>
<line x1="754.2" y1="390.1" x2="797.4" y2="390.1"/>
<line x1="897.4" y1="390.1" x2="938.8" y2="390.1"/>
<path d="M837,389.1 L842.2,384.3 H852 L857.6,389.1"/>
<line x1="763.4" y1="390.1" x2="763.4" y2="417.2"/>
<line x1="931.5" y1="390.1" x2="931.5" y2="417.2"/>
<rect x="756.2" y="417.2" width="182.6" height="5.5"/>
<path d="M754.2,375.5 H738.4 V393.2 C738.4,397.2 740.7,401.7 744.2,406.2 C747.7,410.2 751.6,413.2 756.2,417.2"/>
<path d="M938.8,375.5 H956.8 V394 C956.8,398.2 953.8,403.2 948.8,408.2 C944.8,411.7 941.3,414.2 938.8,417.2"/>
<path d="M841.3,399.3 L829.35,420 L805.45,420 L793.5,399.3 L805.45,378.6 L829.35,378.6 Z" fill="#fff"/>
<path d="M839.65,400.86 L827.18,419.34 L804.93,417.79 L795.15,397.74 L807.62,379.26 L829.87,380.81 Z" stroke-width="0.8"/>
<circle cx="817.4" cy="399.3" r="20.2"/>
<circle cx="817.4" cy="399.3" r="10.8"/>
<circle cx="817.4" cy="399.3" r="9.2" stroke-width="0.9"/>
<line x1="808.4" y1="378" x2="826.4" y2="378" stroke-width="1.6"/>
<line x1="808.4" y1="420.6" x2="826.4" y2="420.6" stroke-width="1.6"/>
<path d="M901.3,399.3 L889.35,420 L865.45,420 L853.5,399.3 L865.45,378.6 L889.35,378.6 Z" fill="#fff"/>
<path d="M899.65,400.86 L887.18,419.34 L864.93,417.79 L855.15,397.74 L867.62,379.26 L889.87,380.81 Z" stroke-width="0.8"/>
<circle cx="877.4" cy="399.3" r="20.2"/>
<circle cx="877.4" cy="399.3" r="10.8"/>
<circle cx="877.4" cy="399.3" r="9.2" stroke-width="0.9"/>
<line x1="868.4" y1="378" x2="886.4" y2="378" stroke-width="1.6"/>
<line x1="868.4" y1="420.6" x2="886.4" y2="420.6" stroke-width="1.6"/>
<line x1="995" y1="373.2" x2="995" y2="422.7"/>
<path d="M995.85,373.2 L995.95,380.4 L996.6,381 L996.9,384.6 L997.3,385.2 L997.3,388.2 L992.7,388.2 L992.7,385.2 L993.1,384.6 L993.4,381 L994.05,380.4 L994.15,373.2 Z" fill="#000" stroke="none"/>
<path d="M994.15,422.7 L994.05,415.5 L993.4,414.9 L993.1,411.3 L992.7,410.7 L992.7,407.7 L997.3,407.7 L997.3,410.7 L996.9,411.3 L996.6,414.9 L995.95,415.5 L995.85,422.7 Z" fill="#000" stroke="none"/>
<text x="990.8" y="397.7" font-size="18.2" text-anchor="middle" transform="rotate(-90 990.8 397.7)" fill="#111" stroke="#111" stroke-width="0.3">18</text>
<path d="M1177.9,39.6 H1304.5 A27,27 0 0 1 1331.5,66.6 V195.2 A27,27 0 0 1 1304.5,222.2 H1177.9 A27,27 0 0 1 1150.9,195.2 V66.6 A27,27 0 0 1 1177.9,39.6 Z"/>
<path d="M1178.1,46.2 H1304.3 A21,21 0 0 1 1325.3,67.2 V193.8 A21,21 0 0 1 1304.3,214.8 H1178.1 A21,21 0 0 1 1157.1,193.8 V67.2 A21,21 0 0 1 1178.1,46.2 Z"/>
<path d="M1177.8,52.2 H1304.6 A15.5,15.5 0 0 1 1320.1,67.7 V192.3 A15.5,15.5 0 0 1 1304.6,207.8 H1177.8 A15.5,15.5 0 0 1 1162.3,192.3 V67.7 A15.5,15.5 0 0 1 1177.8,52.2 Z"/>
<rect x="1195.8" y="40.8" width="4.8" height="5.4" rx="1.2" stroke-width="1.3"/>
<rect x="1237.9" y="40.8" width="4.8" height="5.4" rx="1.2" stroke-width="1.3"/>
<rect x="1280.2" y="40.8" width="4.8" height="5.4" rx="1.2" stroke-width="1.3"/>
<rect x="1131.6" y="67.5" width="19.3" height="38.8"/>
<path d="M1150.9,72.3 H1135.9 V99.8 H1150.9"/>
<rect x="1137.1" y="78" width="2.2" height="15.8"/>
<rect x="1331.5" y="67.5" width="19" height="38.8"/>
<path d="M1331.5,72.3 H1346.2 V99.8 H1331.5"/>
<rect x="1342.8" y="78" width="2.2" height="15.8"/>
<line x1="1150.9" y1="72.3" x2="1157.1" y2="72.3"/>
<line x1="1150.9" y1="99.8" x2="1157.1" y2="99.8"/>
<line x1="1331.5" y1="72.3" x2="1325.3" y2="72.3"/>
<line x1="1331.5" y1="99.8" x2="1325.3" y2="99.8"/>
<rect x="1131.6" y="155" width="19.3" height="39"/>
<path d="M1150.9,159.8 H1135.9 V187.5 H1150.9"/>
<rect x="1137.1" y="165.5" width="2.2" height="16"/>
<rect x="1331.5" y="155" width="19" height="39"/>
<path d="M1331.5,159.8 H1346.2 V187.5 H1331.5"/>
<rect x="1342.8" y="165.5" width="2.2" height="16"/>
<line x1="1150.9" y1="159.8" x2="1157.1" y2="159.8"/>
<line x1="1150.9" y1="187.5" x2="1157.1" y2="187.5"/>
<line x1="1331.5" y1="159.8" x2="1325.3" y2="159.8"/>
<line x1="1331.5" y1="187.5" x2="1325.3" y2="187.5"/>
<path d="M1197.2,113.9 H1189.2 Q1184.2,113.9 1184.2,108.9 V72.4 Q1184.2,67.4 1189.2,67.4 H1292.7 Q1297.7,67.4 1297.7,72.4 V108.9 Q1297.7,113.9 1292.7,113.9 H1284.2"/>
<path d="M1198.7,72.9 H1214.6 C1216.4,77.3 1217.4,82.3 1217.7,87.5"/>
<path d="M1198.7,72.9 C1200.4,77.3 1201.4,82.3 1201.8,87.5 L1200.9,99.7"/>
<path d="M1200.9,99.7 H1217.4 Q1220,99.3 1220,96.5 V87.5"/>
<line x1="1201" y1="94.7" x2="1218.4" y2="94.7"/>
<path d="M1201.8,87.5 H1197.2 V113.9 H1200.2 V124.9"/>
<path d="M1217.7,87.5 H1225.5 V113.9 H1224 V124.9"/>
<path d="M1194.4,124.9 V170.1 H1229.4 V124.9" stroke-width="1.6"/>
<path d="M1200.2,124.9 V168.7 H1224 V124.9"/>
<line x1="1194.4" y1="124.9" x2="1200.2" y2="124.9"/>
<line x1="1224" y1="124.9" x2="1229.4" y2="124.9"/>
<line x1="1196.4" y1="125.3" x2="1196.4" y2="168.7" stroke-width="0.8"/>
<line x1="1200.2" y1="146" x2="1224" y2="146"/>
<line x1="1199.4" y1="135.5" x2="1224.4" y2="135.5" stroke-width="0.7"/>
<circle cx="1211.8" cy="135.5" r="6.2" stroke-width="1.15"/>
<line x1="1211.8" y1="129.8" x2="1211.8" y2="141.2" stroke-width="2.2"/>
<line x1="1206.2" y1="135.5" x2="1217.4" y2="135.5" stroke="#fff" stroke-width="1.3"/>
<line x1="1205.75" y1="134.3" x2="1217.85" y2="134.3" stroke-width="0.95"/>
<line x1="1205.75" y1="136.7" x2="1217.85" y2="136.7" stroke-width="0.95"/>
<circle cx="1211.8" cy="156.6" r="6.2" stroke-width="1.15"/>
<line x1="1211.8" y1="150.9" x2="1211.8" y2="162.3" stroke-width="2.2"/>
<line x1="1206.2" y1="156.6" x2="1217.4" y2="156.6" stroke="#fff" stroke-width="1.3"/>
<line x1="1205.75" y1="155.4" x2="1217.85" y2="155.4" stroke-width="0.95"/>
<line x1="1205.75" y1="157.8" x2="1217.85" y2="157.8" stroke-width="0.95"/>
<path d="M1257.4,72.9 H1273.3 C1275.1,77.3 1276.1,82.3 1276.4,87.5"/>
<path d="M1257.4,72.9 C1259.1,77.3 1260.1,82.3 1260.5,87.5 L1259.6,99.7"/>
<path d="M1259.6,99.7 H1276.1 Q1278.7,99.3 1278.7,96.5 V87.5"/>
<line x1="1259.7" y1="94.7" x2="1277.1" y2="94.7"/>
<path d="M1260.5,87.5 H1255.9 V113.9 H1258.9 V124.9"/>
<path d="M1276.4,87.5 H1284.2 V113.9 H1282.7 V124.9"/>
<path d="M1253.1,124.9 V170.1 H1288.1 V124.9" stroke-width="1.6"/>
<path d="M1258.9,124.9 V168.7 H1282.7 V124.9"/>
<line x1="1253.1" y1="124.9" x2="1258.9" y2="124.9"/>
<line x1="1282.7" y1="124.9" x2="1288.1" y2="124.9"/>
<line x1="1255.1" y1="125.3" x2="1255.1" y2="168.7" stroke-width="0.8"/>
<line x1="1258.9" y1="146" x2="1282.7" y2="146"/>
<line x1="1258.1" y1="135.5" x2="1283.1" y2="135.5" stroke-width="0.7"/>
<circle cx="1270.5" cy="135.5" r="6.2" stroke-width="1.15"/>
<line x1="1270.5" y1="129.8" x2="1270.5" y2="141.2" stroke-width="2.2"/>
<line x1="1264.9" y1="135.5" x2="1276.1" y2="135.5" stroke="#fff" stroke-width="1.3"/>
<line x1="1264.45" y1="134.3" x2="1276.55" y2="134.3" stroke-width="0.95"/>
<line x1="1264.45" y1="136.7" x2="1276.55" y2="136.7" stroke-width="0.95"/>
<circle cx="1270.5" cy="156.6" r="6.2" stroke-width="1.15"/>
<line x1="1270.5" y1="150.9" x2="1270.5" y2="162.3" stroke-width="2.2"/>
<line x1="1264.9" y1="156.6" x2="1276.1" y2="156.6" stroke="#fff" stroke-width="1.3"/>
<line x1="1264.45" y1="155.4" x2="1276.55" y2="155.4" stroke-width="0.95"/>
<line x1="1264.45" y1="157.8" x2="1276.55" y2="157.8" stroke-width="0.95"/>
<circle cx="1207.3" cy="110.6" r="1.6"/>
<circle cx="1274.7" cy="110.6" r="1.6"/>
<rect x="1214.6" y="108.4" width="13.6" height="4" rx="1.2"/>
<rect x="1253.6" y="108.4" width="14.2" height="4" rx="1.2"/>
<rect x="1228.2" y="98.4" width="25.6" height="25.5" fill="#fff"/>
<rect x="1248.4" y="98.4" width="5.4" height="25.5" fill="#000"/>
<circle cx="1303.8" cy="138.1" r="10.8" stroke-width="0.9" stroke-dasharray="5 2.2 1.4 2.2"/>
<circle cx="1303.8" cy="138.1" r="7.3" stroke-width="1.1"/>
<circle cx="1303.8" cy="135.2" r="2.5" fill="#000"/>
<line x1="1303.8" y1="135.6" x2="1303.8" y2="144.3" stroke-width="2.7"/>
<circle cx="1303.8" cy="168" r="10.8" stroke-width="0.9" stroke-dasharray="5 2.2 1.4 2.2"/>
<circle cx="1303.8" cy="168" r="7.3" stroke-width="1.1"/>
<circle cx="1303.8" cy="165.1" r="2.5" fill="#000"/>
<line x1="1303.8" y1="165.5" x2="1303.8" y2="174.2" stroke-width="2.7"/>
<line x1="1241.2" y1="30" x2="1241.2" y2="52.5"/>
<line x1="1241.2" y1="57.5" x2="1241.2" y2="61.2"/>
<line x1="1241.2" y1="65" x2="1241.2" y2="131"/>
<line x1="1241.2" y1="134" x2="1241.2" y2="137.5"/>
<line x1="1241.2" y1="140.5" x2="1241.2" y2="208.7"/>
<line x1="1241.2" y1="211.2" x2="1241.2" y2="214"/>
<line x1="1241.2" y1="216" x2="1241.2" y2="273"/>
<path d="M1190.5,224.2 V254.7 Q1190.5,261.2 1197,261.2 H1225.8 Q1232.3,261.2 1232.3,254.7 V224.2 Z"/>
<line x1="1192.2" y1="225.2" x2="1192.2" y2="253.2" stroke-width="0.8"/>
<line x1="1230.6" y1="225.2" x2="1230.6" y2="253.2" stroke-width="0.8"/>
<line x1="1209.8" y1="224.2" x2="1209.8" y2="254.7"/>
<line x1="1213" y1="224.2" x2="1213" y2="254.7"/>
<path d="M1190.5,253.2 Q1200.95,257.2 1209.8,254.7 Q1221.85,257.2 1232.3,253.2"/>
<rect x="1197.8" y="215.4" width="27.2" height="8.2" fill="#fff" stroke="none"/>
<line x1="1197.3" y1="214.8" x2="1197.3" y2="224.2"/>
<line x1="1225.5" y1="214.8" x2="1225.5" y2="224.2"/>
<path d="M1250.1,224.2 V254.7 Q1250.1,261.2 1256.6,261.2 H1285.4 Q1291.9,261.2 1291.9,254.7 V224.2 Z"/>
<line x1="1251.8" y1="225.2" x2="1251.8" y2="253.2" stroke-width="0.8"/>
<line x1="1290.2" y1="225.2" x2="1290.2" y2="253.2" stroke-width="0.8"/>
<line x1="1269.4" y1="224.2" x2="1269.4" y2="254.7"/>
<line x1="1272.6" y1="224.2" x2="1272.6" y2="254.7"/>
<path d="M1250.1,253.2 Q1260.55,257.2 1269.4,254.7 Q1281.45,257.2 1291.9,253.2"/>
<rect x="1257.4" y="215.4" width="27.2" height="8.2" fill="#fff" stroke="none"/>
<line x1="1256.9" y1="214.8" x2="1256.9" y2="224.2"/>
<line x1="1285.1" y1="214.8" x2="1285.1" y2="224.2"/>
<line x1="1211.8" y1="127.6" x2="1211.8" y2="189.2" stroke-width="0.9"/>
<line x1="1270.5" y1="127.6" x2="1270.5" y2="189.2" stroke-width="0.9"/>
<line x1="1211.8" y1="185.2" x2="1270.5" y2="185.2"/>
<path d="M1211.8,184.35 L1218.28,184.25 L1218.82,183.6 L1222.06,183.3 L1222.6,182.9 L1225.3,182.9 L1225.3,187.5 L1222.6,187.5 L1222.06,187.1 L1218.82,186.8 L1218.28,186.15 L1211.8,186.05 Z" fill="#000" stroke="none"/>
<path d="M1270.5,186.05 L1264.02,186.15 L1263.48,186.8 L1260.24,187.1 L1259.7,187.5 L1257,187.5 L1257,182.9 L1259.7,182.9 L1260.24,183.3 L1263.48,183.6 L1264.02,184.25 L1270.5,184.35 Z" fill="#000" stroke="none"/>
<text x="1240.6" y="180.2" font-size="18.8" text-anchor="middle" fill="#111" stroke="#111" stroke-width="0.3">21</text>
<line x1="1211.8" y1="189.2" x2="1211.8" y2="296.2" stroke-dasharray="30 3 4 3" stroke-width="0.9"/>
<line x1="1270.5" y1="189.2" x2="1270.5" y2="296.2" stroke-dasharray="30 3 4 3" stroke-width="0.9"/>
<line x1="1211.8" y1="292.2" x2="1270.5" y2="292.2"/>
<path d="M1211.8,291.35 L1218.28,291.25 L1218.82,290.6 L1222.06,290.3 L1222.6,289.9 L1225.3,289.9 L1225.3,294.5 L1222.6,294.5 L1222.06,294.1 L1218.82,293.8 L1218.28,293.15 L1211.8,293.05 Z" fill="#000" stroke="none"/>
<path d="M1270.5,293.05 L1264.02,293.15 L1263.48,293.8 L1260.24,294.1 L1259.7,294.5 L1257,294.5 L1257,289.9 L1259.7,289.9 L1260.24,290.3 L1263.48,290.6 L1264.02,291.25 L1270.5,291.35 Z" fill="#000" stroke="none"/>
<text x="1240" y="286.8" font-size="18.8" text-anchor="middle" fill="#111" stroke="#111" stroke-width="0.3">21</text>
<path d="M1038.4,323.8 V307.2 H1220.6 V323.8"/>
<line x1="1038.4" y1="323.8" x2="1073" y2="323.8"/>
<line x1="1099.6" y1="323.8" x2="1160.2" y2="323.8"/>
<line x1="1187.6" y1="323.8" x2="1220.6" y2="323.8"/>
<rect x="1073" y="308.8" width="26.6" height="31.8"/>
<rect x="1077.2" y="310.4" width="17.8" height="18.8"/>
<line x1="1073" y1="333" x2="1099.6" y2="333"/>
<line x1="1077.6" y1="333" x2="1077.6" y2="340.6"/>
<line x1="1094.8" y1="333" x2="1094.8" y2="340.6"/>
<rect x="1160.2" y="308.8" width="27.4" height="31.8"/>
<rect x="1164.4" y="310.4" width="18.6" height="18.8"/>
<line x1="1160.2" y1="333" x2="1187.6" y2="333"/>
<line x1="1164.8" y1="333" x2="1164.8" y2="340.6"/>
<line x1="1182.8" y1="333" x2="1182.8" y2="340.6"/>
<line x1="1129.6" y1="304.7" x2="1129.6" y2="332.4"/>
<path d="M1128.6,362.4 L1124.9,356.6 H1126.5 V343.2 H1130.7 V356.6 H1132.3 Z" stroke-width="0.9"/>
<rect x="1068" y="375.69" width="40.4" height="8.91"/>
<line x1="1074.1" y1="375.69" x2="1074.1" y2="384.6"/>
<line x1="1102" y1="375.69" x2="1102" y2="384.6"/>
<rect x="1156" y="375.69" width="41" height="8.91"/>
<line x1="1162.1" y1="375.69" x2="1162.1" y2="384.6"/>
<line x1="1190.6" y1="375.69" x2="1190.6" y2="384.6"/>
<line x1="1048.4" y1="384.6" x2="1211.2" y2="384.6"/>
<rect x="1048.4" y="384.6" width="5.4" height="31.75" fill="url(#h)"/>
<path d="M1048.4,391.96 V391.96 H1042.8 V416.35"/>
<path d="M1042.8,393.31 L1041,416.35" stroke-width="0.8"/>
<rect x="1040.4" y="416.35" width="26.6" height="6" fill="url(#h)"/>
<line x1="1067" y1="416.35" x2="1117.2" y2="416.35"/>
<line x1="1067" y1="422.35" x2="1117.2" y2="422.35"/>
<line x1="1059.4" y1="423.51" x2="1065.4" y2="423.51" stroke-width="1.6"/>
<line x1="1196.9" y1="423.51" x2="1202.9" y2="423.51" stroke-width="1.6"/>
<path d="M1117.2,422.35 L1225,422.35 L1225,416.35 L1172.6,416.35 L1172.6,402.9 L1165.8,402.9 L1165.8,417.12 L1151.2,417.12 L1151.2,403.57 L1144,403.57 L1144,419.06 L1133,419.06 L1133,402.9 L1127.8,402.9 L1127.8,416.35 L1117.2,416.35 Z" fill="url(#h)"/>
<path d="M1128.2,402.9 V389.44 H1171.6 V402.9"/>
<rect x="1103.4" y="401.25" width="27.8" height="2.13"/>
<rect x="1134.3" y="400.57" width="8.6" height="17.23" stroke-width="1.7" fill="#fff"/>
<rect x="1131.2" y="397.09" width="13.8" height="3.48" rx="1.4" stroke-width="1.3" fill="#fff"/>
<line x1="1136.8" y1="397.18" x2="1139.8" y2="397.18" stroke-width="2"/>
<rect x="1152.7" y="398.25" width="11.6" height="16.84" stroke-width="2" fill="#fff"/>
<rect x="1151.3" y="395.34" width="14.4" height="2.9" rx="1.4" stroke-width="1.3" fill="#fff"/>
<line x1="1157" y1="395.25" x2="1160.2" y2="395.25" stroke-width="2"/>
<rect x="1145" y="398.73" width="6.3" height="2.13" stroke-width="0.9" fill="#fff"/>
<rect x="1165.7" y="398.73" width="5.9" height="2.13" stroke-width="0.9" fill="#fff"/>
<path d="M1211.2,384.6 L1224.8,384.6 L1226,381.31 L1228.31,380.92 L1230.63,384.79 L1232.54,380.92 L1234.87,384.79 L1236.77,380.92 L1239.1,384.79 L1241.01,380.92 L1243.33,384.79 L1245.24,380.92 L1247.57,384.79 L1249.47,380.92 L1252.6,383.63 L1253.8,385.37 L1253.8,389.63 L1211.2,389.63 Z" stroke-width="0.9" fill="url(#h)"/>
<path d="M1211.2,408.03 L1253.8,408.03 L1253.8,411.9 L1252.6,413.83 L1249.89,414.61 L1247.57,411.32 L1245.66,414.61 L1243.33,411.32 L1241.43,414.61 L1239.1,411.32 L1237.2,414.61 L1234.87,411.32 L1232.96,414.61 L1230.63,411.32 L1228.73,414.61 L1226.4,411.32 L1225,411.32 L1225,416.35 L1211.2,416.35 Z" stroke-width="0.9" fill="url(#h)"/>
<line x1="1211.2" y1="389.63" x2="1211.2" y2="408.03"/>
<line x1="1253.8" y1="385.37" x2="1253.8" y2="411.9"/>
<line x1="1249.4" y1="389.63" x2="1249.4" y2="408.03" stroke-width="0.8"/>
<rect x="1215.8" y="410.74" width="3" height="5.61" stroke-width="0.9" fill="#fff"/>
<line x1="1203.4" y1="399.51" x2="1256.4" y2="399.51" stroke-dasharray="13 3 8 3 30 0" stroke-width="0.9"/>
<path d="M1263,399.51 L1269.5,394.91 V397.01 H1282.4 V402.01 H1269.5 V404.11 Z" stroke-width="0.9"/>
<path d="M1309.2,384.6 L1301.2,388.8 V409.81 L1309.2,414.41"/>
<path d="M1312,384.6 L1320.4,389.2 V409.61 L1312,414.41"/>
<line x1="1309.2" y1="384.6" x2="1309.2" y2="414.41"/>
<line x1="1312" y1="384.6" x2="1312" y2="414.41"/>
<line x1="1309.2" y1="384.6" x2="1312" y2="384.6"/>
<line x1="1309.2" y1="414.41" x2="1312" y2="414.41"/>
<path d="M1333.8,399.51 L1340.3,394.91 V397.01 H1353.6 V402.01 H1340.3 V404.11 Z" stroke-width="0.9"/>
<path d="M1371.4,375.69 L1399.4,375.69 L1407.4,383.09 L1407.4,389.09 L1400.8,389.09 L1397.9,384.29 L1395.15,385.29 L1393.4,382.49 L1391.65,385.29 L1389.9,382.49 L1388.15,385.29 L1386.4,382.49 L1384.65,385.29 L1382.9,382.49 L1381.15,385.29 L1379.4,382.49 L1377.65,385.29 L1375.9,382.49 L1374.15,385.29 L1372.4,382.49 L1371.4,382.49 Z" stroke-width="0.9" fill="url(#h)"/>
<path d="M1371.4,422.35 L1399.4,422.35 L1407.4,414.95 L1407.4,407.75 L1400.8,407.75 L1397.9,413.75 L1395.15,412.75 L1393.4,415.55 L1391.65,412.75 L1389.9,415.55 L1388.15,412.75 L1386.4,415.55 L1384.65,412.75 L1382.9,415.55 L1381.15,412.75 L1379.4,415.55 L1377.65,412.75 L1375.9,415.55 L1374.15,412.75 L1372.4,415.55 L1371.4,415.55 Z" stroke-width="0.9" fill="url(#h)"/>
<line x1="1371.4" y1="375.69" x2="1371.4" y2="422.35" stroke-width="1.3"/>
<rect x="1400.8" y="389.09" width="6.6" height="18.66"/>
<text x="1044.6" y="460.4" font-size="27.6" text-anchor="middle" textLength="14" lengthAdjust="spacingAndGlyphs" fill="#000" stroke="#000" stroke-width="0.3">B</text>
</svg>
</body>
</html>
